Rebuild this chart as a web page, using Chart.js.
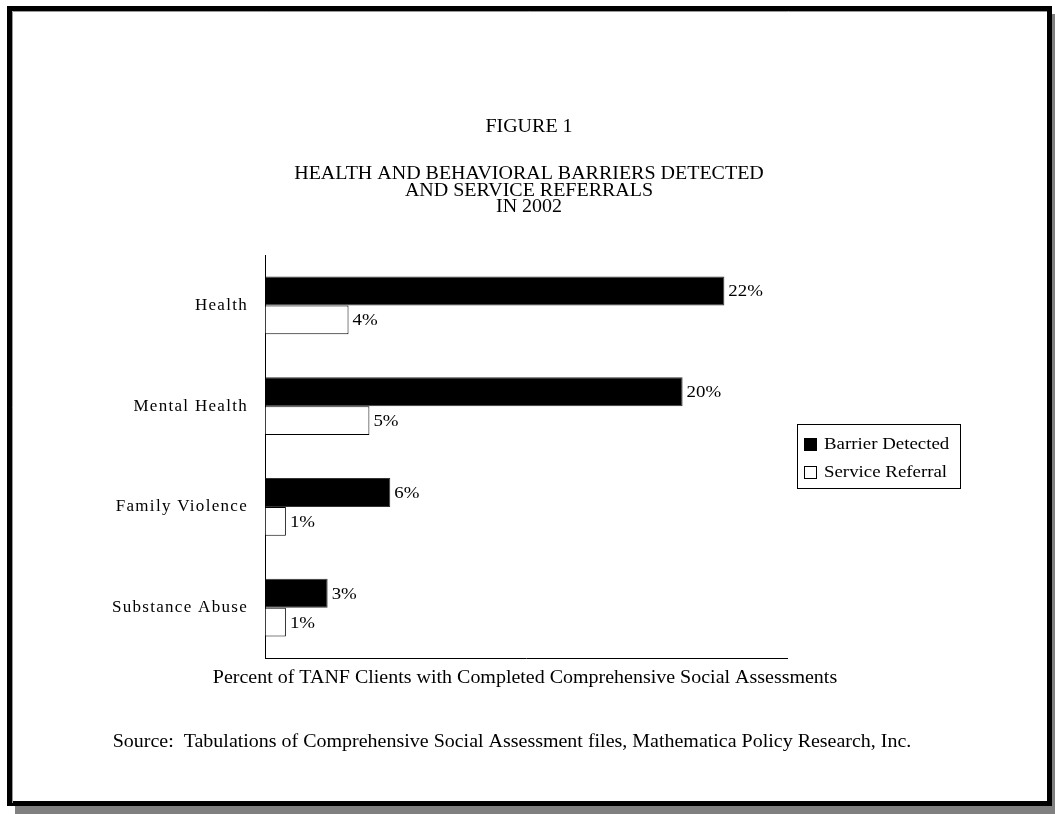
<!DOCTYPE html>
<html>
<head>
<meta charset="utf-8">
<script src="https://cdn.jsdelivr.net/npm/chart.js@4/dist/chart.umd.min.js"></script>
<style>
  html, body { margin: 0; padding: 0; background: #fff; }
  #wrap { width: 1055px; height: 814px; }
</style>
</head>
<body>
<div id="wrap"><canvas id="fig"></canvas></div>
<script>
const categories = ['Health', 'Mental Health', 'Family Violence', 'Substance Abuse']
const barrierDetected = [22, 20, 6, 3]
const serviceReferral = [4, 5, 1, 1]
const seriesNames = ['Barrier Detected', 'Service Referral']
const titleLines = ['HEALTH AND BEHAVIORAL BARRIERS DETECTED', 'AND SERVICE REFERRALS', 'IN 2002']
const axisTitle = 'Percent of TANF Clients with Completed Comprehensive Social Assessments'
const sourceNote = 'Source:  Tabulations of Comprehensive Social Assessment files, Mathematica Policy Research, Inc.'

const SERIF = "'Liberation Serif', 'Times New Roman', serif"
const STRETCH = 1.11   // the original page text is a bit wide

function wideText(ctx, text, x, y, align) {
  ctx.save()
  ctx.translate(x, y)
  ctx.scale(STRETCH, 1)
  ctx.textAlign = align
  ctx.fillText(text, 0, 0)
  ctx.restore()
}

// frame, titles, source line, value labels and legend box
const paperPlugin = {
  id: 'paper',
  beforeDraw(chart) {
    const ctx = chart.ctx
    ctx.save()
    ctx.fillStyle = '#fff'
    ctx.fillRect(0, 0, chart.width, chart.height)
    // shadow
    ctx.fillStyle = '#808080'
    ctx.fillRect(15, 14, 1050, 810)
    // page
    ctx.fillStyle = '#fff'
    ctx.fillRect(7, 6, 1045, 800)
    ctx.lineWidth = 5
    ctx.strokeStyle = '#000'
    ctx.strokeRect(9.5, 8.5, 1040, 795)
    ctx.lineWidth = 1
    ctx.strokeStyle = '#999'
    ctx.beginPath()
    ctx.moveTo(12.5, 803); ctx.lineTo(12.5, 11.5); ctx.lineTo(1047, 11.5)
    ctx.stroke()

    ctx.fillStyle = '#000'
    ctx.textBaseline = 'middle'
    ctx.font = '18px ' + SERIF
    wideText(ctx, 'FIGURE 1', 529, 127, 'center')
    titleLines.forEach((t, i) => wideText(ctx, t, 529, 174 + i * 16.8, 'center'))
    wideText(ctx, sourceNote, 512, 742, 'center')

    const xs = chart.scales.x
    wideText(ctx, axisTitle, (xs.left + xs.right) / 2 - 1, 678, 'center')
    ctx.restore()
    ctx.letterSpacing = '1.3px'
  },
  beforeDatasetsDraw(chart) {
    chart.ctx.letterSpacing = '0px'
  },
  afterDatasetsDraw(chart) {
    const ctx = chart.ctx
    ctx.save()
    ctx.fillStyle = '#000'
    ctx.font = '17px ' + SERIF
    ctx.textBaseline = 'middle'
    chart.data.datasets.forEach((ds, i) => {
      chart.getDatasetMeta(i).data.forEach((bar, j) => {
        wideText(ctx, ds.data[j] + '%', bar.x + 4, bar.y + 1, 'left')
      })
    })

    // legend
    ctx.lineWidth = 1
    ctx.strokeStyle = '#000'
    ctx.strokeRect(797.5, 424.5, 163, 64)
    chart.data.datasets.forEach((ds, i) => {
      const y = 444 + i * 28
      ctx.fillStyle = ds.backgroundColor
      ctx.fillRect(804, y - 6, 13, 13)
      ctx.strokeRect(804.5, y - 5.5, 12, 12)
      ctx.fillStyle = '#000'
      wideText(ctx, ds.label, 824, y + 1, 'left')
    })
    ctx.restore()
  }
}

new Chart(document.getElementById('fig'), {
  type: 'bar',
  data: {
    labels: categories,
    datasets: [
      {
        label: seriesNames[0],
        data: barrierDetected,
        backgroundColor: '#000',
        borderColor: '#333',
        borderWidth: 1
      },
      {
        label: seriesNames[1],
        data: serviceReferral,
        backgroundColor: '#fff',
        borderColor: '#000',
        borderWidth: 1
      }
    ]
  },
  options: {
    indexAxis: 'y',
    responsive: true,
    maintainAspectRatio: false,
    animation: false,
    categoryPercentage: 0.575,
    barPercentage: 1.0,
    layout: { padding: { top: 255, right: 268, bottom: 0, left: 0 } },
    plugins: {
      legend: { display: false },
      title: { display: false },
      tooltip: { enabled: false }
    },
    scales: {
      x: {
        min: 0,
        max: 25,
        ticks: { display: false },
        grid: { drawOnChartArea: false, drawTicks: false },
        border: { color: '#000', width: 1 },
        title: { display: false },
        afterFit(s) { s.height = 156 }
      },
      y: {
        grid: { drawOnChartArea: false, drawTicks: false },
        border: { color: '#000', width: 1 },
        ticks: { color: '#000', font: { family: SERIF, size: 17 }, padding: 17 },
        afterFit(s) { s.width = 265 }
      }
    }
  },
  plugins: [paperPlugin]
})
</script>
</body>
</html>
